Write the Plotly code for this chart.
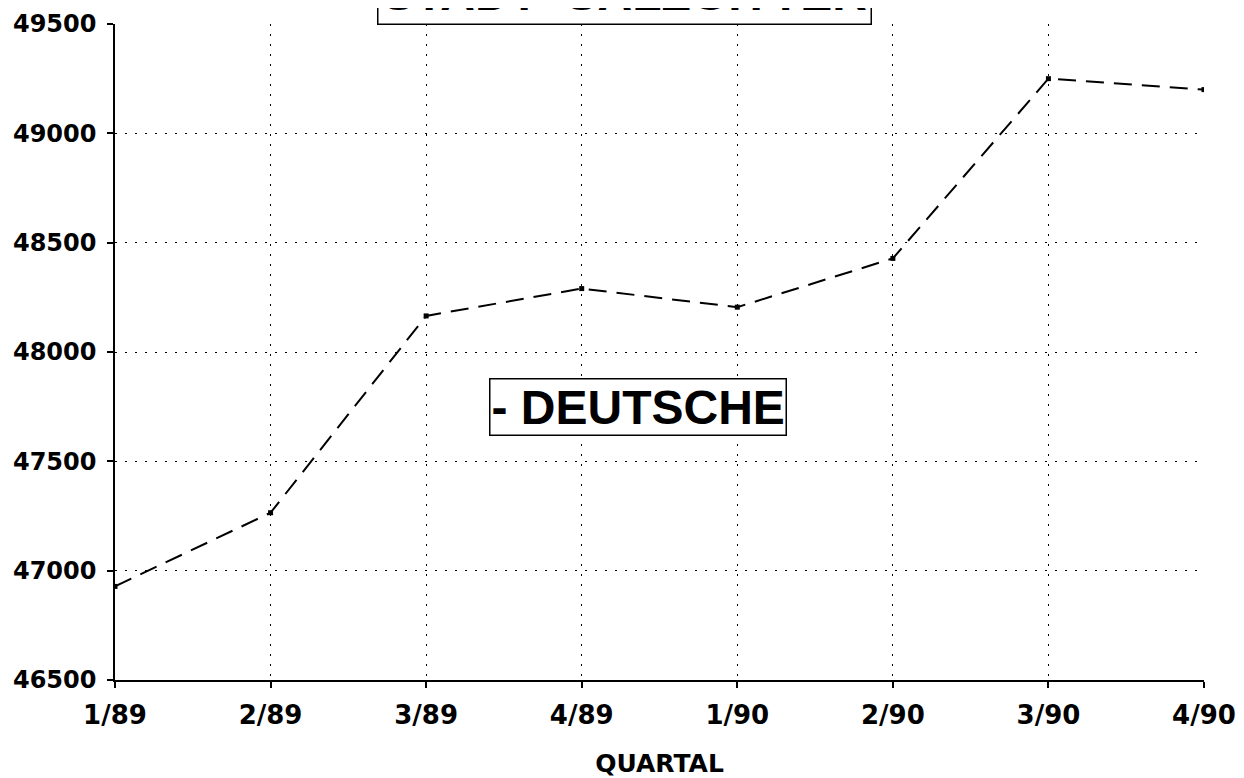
import plotly.graph_objects as go

quarters = ["1/89", "2/89", "3/89", "4/89", "1/90", "2/90", "3/90", "4/90"]
deutsche = [46928, 47265, 48165, 48290, 48205, 48428, 49250, 49200]
y_ticks = [46500, 47000, 47500, 48000, 48500, 49000, 49500]

title_text = "STADT  SALZGITTER"
series_label = "- DEUTSCHE"
x_title = "QUARTAL"

FONT = "Liberation Sans, Arial, sans-serif"
TICKFONT = "DejaVu Sans, sans-serif"

fig = go.Figure()
fig.add_trace(go.Scatter(
    x=list(range(len(quarters))), y=deutsche, mode="lines+markers",
    line=dict(color="black", width=2, dash="18px,10px"),
    marker=dict(color="black", size=5, symbol="square"),
    showlegend=False, hoverinfo="x+y",
))

fig.update_layout(
    width=1244, height=778,
    margin=dict(l=107, r=48, t=16, b=106, autoexpand=False),
    paper_bgcolor="white", plot_bgcolor="white",
    font=dict(family=FONT, color="black"),
    xaxis=dict(
        range=[0, len(quarters) - 1], automargin=False,
        tickmode="array", tickvals=list(range(len(quarters))), ticktext=quarters,
        showgrid=True, gridcolor="black", griddash="2px,8px", gridwidth=1,
        showline=True, linecolor="black", linewidth=1.5,
        ticks="outside", ticklen=6, tickcolor="black", tickwidth=1.5,
        ticklabelstandoff=5,
        tickfont=dict(size=26, family=TICKFONT, color="black", weight="bold"),
        title=dict(text=x_title, font=dict(size=25, family=TICKFONT, weight="bold"), standoff=26),
        zeroline=False,
    ),
    yaxis=dict(
        range=[46500, 49500], automargin=False,
        tickmode="array", tickvals=y_ticks, ticktext=[str(v) for v in y_ticks],
        showgrid=True, gridcolor="black", griddash="2px,8px", gridwidth=1,
        showline=True, linecolor="black", linewidth=1.5,
        ticks="outside", ticklen=6, tickcolor="black", tickwidth=1.5,
        ticklabelstandoff=6,
        tickfont=dict(size=24, family=TICKFONT, color="black", weight="bold"),
        zeroline=False,
    ),
)

fig.add_annotation(
    text=title_text, xref="paper", yref="paper", x=0.468, y=0.9985,
    xanchor="center", yanchor="bottom", showarrow=False,
    font=dict(size=48, family=FONT, weight="bold", color="black"),
    bordercolor="black", borderwidth=1.5, borderpad=4, bgcolor="white",
)
fig.add_annotation(
    text=series_label, xref="paper", yref="paper", x=0.4805, y=0.416,
    xanchor="center", yanchor="middle", showarrow=False,
    font=dict(size=48, family=FONT, weight="bold", color="black"),
    bordercolor="black", borderwidth=1.5, borderpad=1, bgcolor="white",
)

fig.write_html("out.html")
